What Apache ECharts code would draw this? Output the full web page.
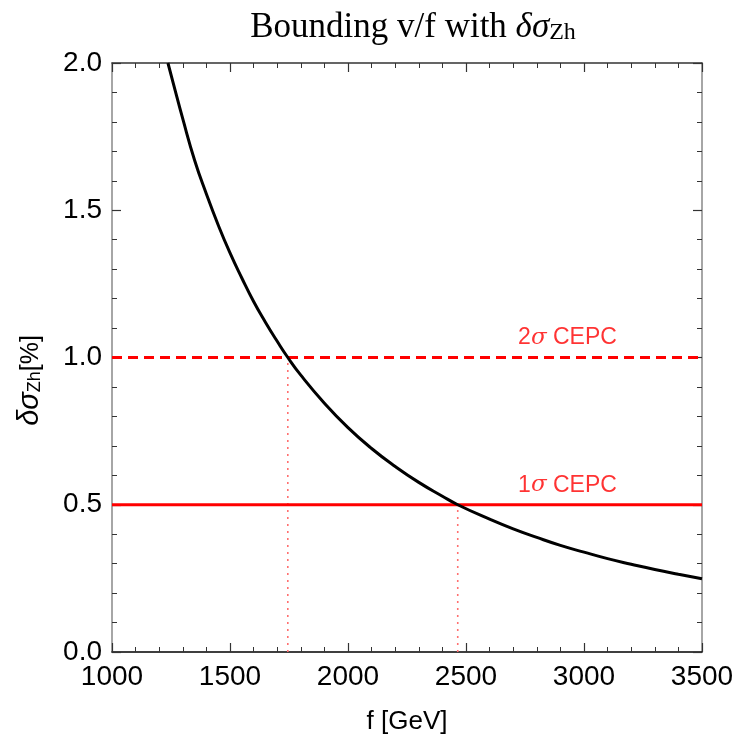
<!DOCTYPE html>
<html><head><meta charset="utf-8">
<script src="https://cdn.jsdelivr.net/npm/echarts@6/dist/echarts.min.js"></script>
<style>html,body{margin:0;padding:0;background:#fff}#c{width:739px;height:743px}</style>
</head><body><div id="c"></div>
<script>
const curveF = [1237, 1260, 1300, 1350, 1400, 1450, 1500, 1550, 1600, 1650, 1700, 1745, 1800, 1900, 2000, 2100, 2200, 2300, 2400, 2465, 2600, 2700, 2800, 2900, 3000, 3100, 3200, 3300, 3400, 3500];
const curveY = [2.00, 1.93, 1.81, 1.67, 1.555, 1.45, 1.355, 1.27, 1.19, 1.12, 1.055, 1.00, 0.94, 0.845, 0.762, 0.691, 0.63, 0.576, 0.529, 0.50, 0.451, 0.418, 0.389, 0.362, 0.339, 0.317, 0.298, 0.28, 0.264, 0.249];
const bounds = [1.0, 0.5];
const boundNames = ['2σ CEPC', '1σ CEPC'];
const crossF = [1745, 2465];
const xTicks = [1000, 1500, 2000, 2500, 3000, 3500];
const yTicks = [0.0, 0.5, 1.0, 1.5, 2.0];
const labelF = 2930;

const red = '#ff0000';
const chart = echarts.init(document.getElementById('c'));
const tickCommon = {inside: true, length: 9, lineStyle: {color: '#333', width: 1.2}};
const minorCommon = {show: true, splitNumber: 5, length: 5, lineStyle: {color: '#333', width: 1}};
const series = [];
series.push({type: 'line', data: curveF.map((f, i) => [f, curveY[i]]), smooth: true, showSymbol: false,
  lineStyle: {color: '#000', width: 3}, z: 5, silent: true});
bounds.forEach((b, i) => {
  series.push({type: 'line', data: [[1000, b], [3500, b]], showSymbol: false,
    lineStyle: {color: red, width: 3, type: i === 0 ? [10, 6] : 'solid'}, z: 4, silent: true});
  series.push({type: 'line', data: [[crossF[i], 0], [crossF[i], b]], showSymbol: false,
    lineStyle: {color: '#ff7070', width: 1.6, type: [2, 5]}, z: 3, silent: true});
  series.push({type: 'scatter', data: [[labelF, b]], symbolSize: 0, silent: true,
    label: {show: true, position: 'top', distance: 8,
      formatter: '{n|' + boundNames[i].charAt(0) + '}{g|σ}{t| CEPC}',
      rich: {n: {fontFamily: 'Liberation Sans', fontSize: 23, color: red},
             g: {fontFamily: 'DejaVu Serif', fontStyle: 'italic', fontSize: 23, color: red},
             t: {fontFamily: 'Liberation Sans', fontSize: 23, color: red}}}});
});
chart.setOption({
  animation: false,
  title: {text: '{a|Bounding v/f with }{b|δσ}{c|Zh}', left: 408, textAlign: 'center', top: -2,
    textStyle: {rich: {
      a: {fontFamily: 'Liberation Serif', fontWeight: 'normal', fontSize: 35, color: '#000', verticalAlign: 'bottom', lineHeight: 42},
      b: {fontFamily: 'Liberation Serif', fontWeight: 'normal', fontStyle: 'italic', fontSize: 35, color: '#000', verticalAlign: 'bottom', lineHeight: 42},
      c: {fontFamily: 'Liberation Serif', fontWeight: 'normal', fontSize: 24, color: '#000', verticalAlign: 'bottom', lineHeight: 34}}}},
  grid: {left: 112, right: 37, top: 63, bottom: 91},
  xAxis: [{type: 'value', min: 1000, max: 3500, interval: 500,
    name: 'f [GeV]', nameLocation: 'middle', nameGap: 57,
    nameTextStyle: {fontFamily: 'Liberation Sans', fontSize: 26, color: '#000'},
    axisLine: {lineStyle: {color: '#000', width: 1.5}},
    axisTick: tickCommon, minorTick: minorCommon, splitLine: {show: false}, minorSplitLine: {show: false},
    axisLabel: {fontFamily: 'Liberation Sans', fontSize: 28, color: '#000', margin: 11,
      customValues: xTicks, formatter: v => String(v)}},
   {type: 'value', position: 'top', min: 1000, max: 3500, interval: 500,
    axisLine: {show: true, onZero: false, lineStyle: {color: '#333', width: 1.5}},
    axisTick: tickCommon, minorTick: minorCommon, splitLine: {show: false}, axisLabel: {show: false}}],
  yAxis: [{type: 'value', min: 0, max: 2, interval: 0.5,
    name: '{d|δσ}{s|Zh}{n|[%]}', nameLocation: 'middle', nameGap: 68, nameRotate: 90,
    nameTextStyle: {padding: [0, 46, 0, 0], rich: {
      d: {fontFamily: 'Liberation Sans', fontStyle: 'italic', fontSize: 29, color: '#000', verticalAlign: 'bottom', lineHeight: 34},
      s: {fontFamily: 'Liberation Sans', fontSize: 18, color: '#000', verticalAlign: 'bottom', lineHeight: 24},
      n: {fontFamily: 'Liberation Sans', fontSize: 25, color: '#000', verticalAlign: 'bottom', lineHeight: 34}}},
    axisLine: {show: true, lineStyle: {color: '#888', width: 1.5}},
    axisTick: tickCommon, minorTick: minorCommon, splitLine: {show: false},
    axisLabel: {fontFamily: 'Liberation Sans', fontSize: 28, color: '#000', margin: 10,
      customValues: yTicks, formatter: v => v.toFixed(1)}},
   {type: 'value', position: 'right', min: 0, max: 2, interval: 0.5,
    axisLine: {show: true, onZero: false, lineStyle: {color: '#888', width: 1.5}},
    axisTick: tickCommon, minorTick: minorCommon, splitLine: {show: false}, axisLabel: {show: false}}],
  series: series
});
</script></body></html>
